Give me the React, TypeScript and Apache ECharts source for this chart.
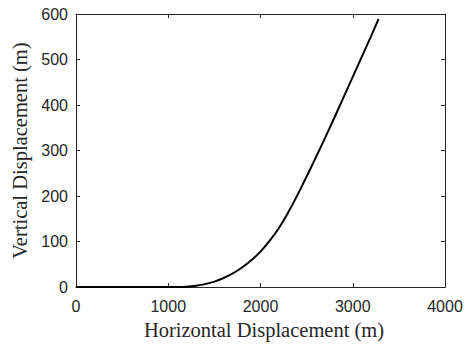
import React, { useEffect, useRef } from "react";
import * as echarts from "echarts";

const horizontal = [0, 200, 400, 600, 800, 1000, 1100, 1200, 1300, 1400, 1500, 1600, 1700, 1800, 1900, 2000, 2100, 2200, 2300, 2400, 2500, 2600, 2700, 2800, 2900, 3000, 3100, 3200, 3280];
const vertical = [0, 0, 0, 0, 0, 0, 0, 0.8, 3, 6.5, 12, 20, 30, 43, 59, 78, 102, 130, 164, 202, 243, 285, 328, 372, 417, 462, 507, 552, 589];

const xTicks = [0, 1000, 2000, 3000, 4000];
const yTicks = [0, 100, 200, 300, 400, 500, 600];

const xName = "Horizontal Displacement (m)";
const yName = "Vertical Displacement (m)";

export default function App() {
  const ref = useRef<HTMLDivElement>(null);
  useEffect(() => {
    if (!ref.current) return;
    const chart = echarts.init(ref.current, null, { renderer: "svg" });
    const axisLine = { show: true, onZero: false, lineStyle: { color: "#262626", width: 1 } };
    const axisTick = { show: true, inside: true, length: 4, lineStyle: { color: "#262626", width: 1 } };
    const tickFont = { color: "#262626", fontSize: 16, fontFamily: "Liberation Sans, Arial, sans-serif" };
    const serif = { color: "#262626", fontSize: 20.5, fontFamily: "Liberation Serif, Times New Roman, serif" };
    chart.setOption({
      animation: false,
      backgroundColor: "#ffffff",
      grid: { left: 76, right: 25, top: 14, bottom: 53, containLabel: false },
      xAxis: [
        {
          type: "value", min: xTicks[0], max: xTicks[xTicks.length - 1], interval: 1000,
          position: "bottom",
          axisLine, axisTick, splitLine: { show: false },
          axisLabel: { ...tickFont, margin: 11, formatter: (v: number) => String(v) },
          name: xName, nameLocation: "middle", nameGap: 30,
          nameTextStyle: { ...serif, padding: [0, 0, 0, 7] },
        },
        {
          type: "value", min: xTicks[0], max: xTicks[xTicks.length - 1], interval: 1000,
          position: "top",
          axisLine, axisTick, splitLine: { show: false }, axisLabel: { show: false },
        },
      ],
      yAxis: [
        {
          type: "value", min: yTicks[0], max: yTicks[yTicks.length - 1], interval: 100,
          position: "left",
          axisLine, axisTick, splitLine: { show: false },
          axisLabel: { ...tickFont, margin: 8 },
          name: yName, nameLocation: "middle", nameGap: 44, nameTextStyle: serif,
        },
        {
          type: "value", min: yTicks[0], max: yTicks[yTicks.length - 1], interval: 100,
          position: "right",
          axisLine, axisTick, splitLine: { show: false }, axisLabel: { show: false },
        },
      ],
      series: [
        {
          type: "line",
          data: horizontal.map((h, i) => [h, vertical[i]]),
          showSymbol: false,
          smooth: 0.25,
          lineStyle: { color: "#000000", width: 2 },
          xAxisIndex: 0, yAxisIndex: 0,
        },
      ],
    });
    return () => chart.dispose();
  }, []);
  return <div ref={ref} style={{ position: "fixed", left: 0, top: 0, width: 470, height: 345 }} />;
}
